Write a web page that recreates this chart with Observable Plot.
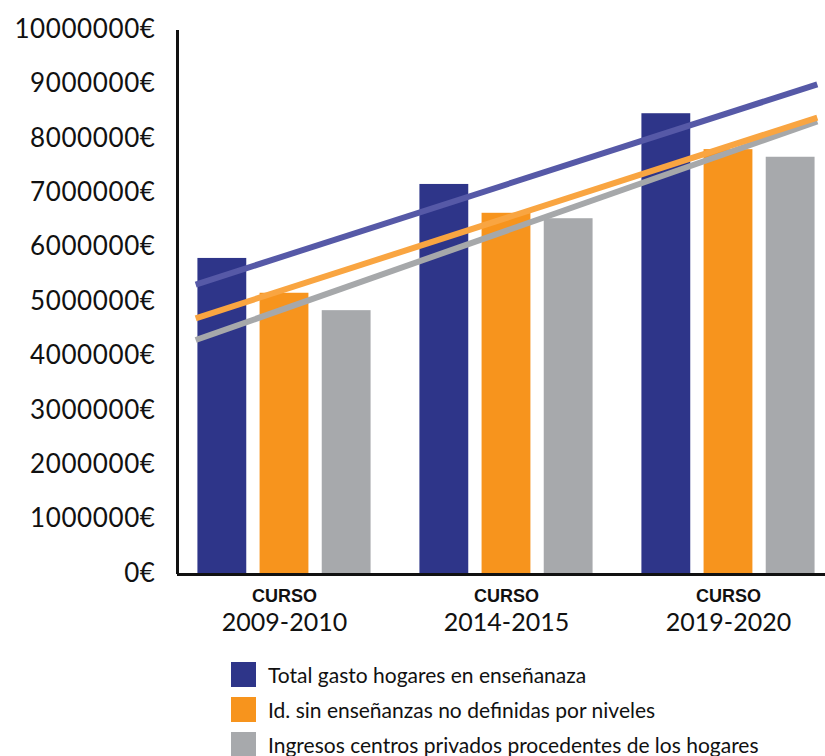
<!DOCTYPE html>
<html>
<head>
<meta charset="utf-8">
<script src="https://cdn.jsdelivr.net/npm/d3@7"></script>
<script src="https://cdn.jsdelivr.net/npm/@observablehq/plot@0.6"></script>
<style>
  body { margin: 0; background: #fff; }
  #legend { margin-left: 231px; margin-top: 22px; font-family: Lato, "Open Sans", sans-serif; font-size: 21px; color: #111; }
  .row { display: flex; align-items: center; height: 25px; margin-bottom: 10px; }
  .sw { width: 25px; height: 25px; margin-right: 12px; flex: none; }
  g[aria-label="y-axis tick label"] text { letter-spacing: 0.6px; }
</style>
</head>
<body>
<div id="chart"></div>
<div id="legend"></div>
<script>
// ---- data ----
const courses = ["2009-2010", "2014-2015", "2019-2020"];
const seriesNames = [
  "Total gasto hogares en enseñanaza",
  "Id. sin enseñanzas no definidas por niveles",
  "Ingresos centros privados procedentes de los hogares"
];
const totalGasto = [5810000, 7170000, 8470000];
const sinNoDefinidas = [5170000, 6640000, 7810000];
const ingresosPrivados = [4850000, 6540000, 7670000];
// trend line values at the start / end of each line
const trendStart = [5330000, 4710000, 4310000];
const trendEnd = [9010000, 8400000, 8330000];
const yTicks = d3.range(0, 10000001, 1000000);

// ---- styles ----
const barColors = ["#2e3589", "#f7941d", "#a7a9ac"];
const lineColors = ["#5659a7", "#f9a541", "#a6a8aa"];
const step = 0.28, barW = 0.22, forecast = 0.4;
const xDomain = [-0.482, 2.437];

const seriesValues = [totalGasto, sinNoDefinidas, ingresosPrivados];
const bars = [];
seriesValues.forEach((vals, j) => vals.forEach((v, i) => {
  const c = i + (j - 1) * step;
  bars.push({x1: c - barW / 2, x2: c + barW / 2, value: v, series: seriesNames[j]});
}));
const trends = [];
[2, 1, 0].forEach(j => {
  trends.push({x: -forecast, y: trendStart[j], series: seriesNames[j]});
  trends.push({x: courses.length - 1 + forecast, y: trendEnd[j], series: seriesNames[j]});
});
const groups = courses.map((c, i) => ({i, c}));

const chart = Plot.plot({
  width: 825,
  height: 640,
  marginLeft: 177,
  marginRight: 0,
  marginTop: 30,
  marginBottom: 66,
  style: {fontFamily: "Lato, 'Open Sans', sans-serif", color: "#111", background: "#fff"},
  x: {type: "linear", domain: xDomain, axis: null},
  y: {domain: [0, 10000000], axis: null},
  color: {domain: seriesNames, range: barColors},
  marks: [
    Plot.rectY(bars, {x1: "x1", x2: "x2", y: "value", fill: "series"}),
    Plot.line(trends, {x: "x", y: "y", z: "series", stroke: d => lineColors[seriesNames.indexOf(d.series)], strokeWidth: 6, strokeLinecap: "butt"}),
    Plot.ruleY([0], {stroke: "#111", strokeWidth: 3}),
    Plot.ruleX([xDomain[0]], {y1: 0, y2: 10000000, stroke: "#111", strokeWidth: 3}),
    Plot.axisY(yTicks, {tickSize: 0, tickPadding: 22, tickFormat: d => `${d}€`, fontSize: 26, label: null, dy: -1}),
    Plot.text(groups, {x: "i", text: () => "CURSO", frameAnchor: "bottom", lineAnchor: "middle", dy: 22, fontSize: 18, fontWeight: "bold", fontFamily: "'Liberation Sans Narrow', 'Liberation Sans', sans-serif", fill: "#111"}),
    Plot.text(groups, {x: "i", text: "c", frameAnchor: "bottom", lineAnchor: "middle", dy: 48, fontSize: 25, fill: "#111"})
  ]
});
document.getElementById("chart").appendChild(chart);

const legend = document.getElementById("legend");
seriesNames.forEach((n, j) => {
  const row = document.createElement("div");
  row.className = "row";
  row.innerHTML = `<div class="sw" style="background:${barColors[j]}"></div><span>${n}</span>`;
  legend.appendChild(row);
});
</script>
</body>
</html>
